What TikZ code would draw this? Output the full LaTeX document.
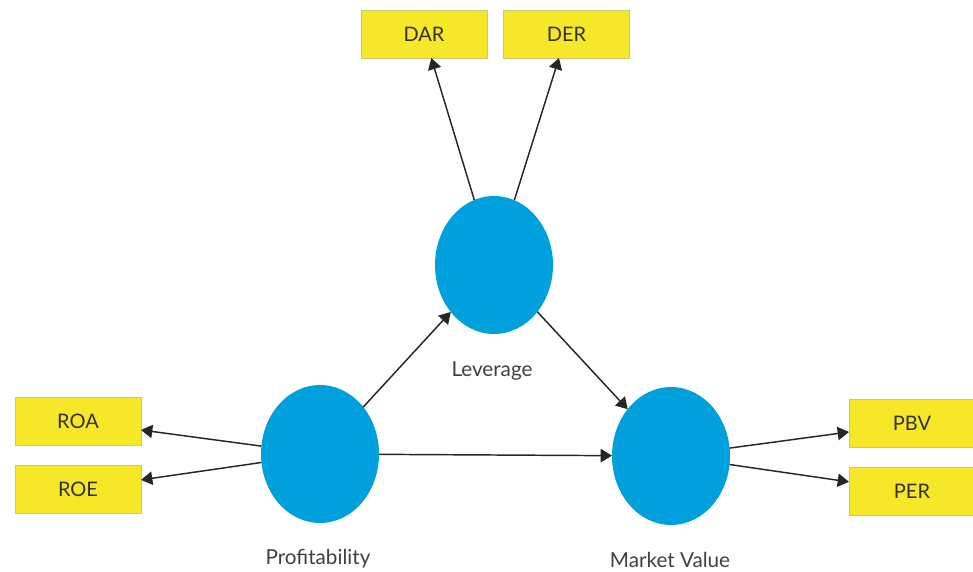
\documentclass[tikz,border=0pt]{standalone}
\usepackage{fontspec}
\setmainfont{Lato}
\usetikzlibrary{shapes.geometric,arrows.meta}

\definecolor{latentblue}{RGB}{0,160,221}
\definecolor{indyellow}{RGB}{246,232,40}
\definecolor{indborder}{RGB}{205,200,120}

\tikzset{every picture/.style={line width=0.75pt}}
\tikzset{
  latent/.style={ellipse, fill=latentblue, draw=none, minimum width=88.5pt, minimum height=103.5pt, inner sep=0pt, outer sep=0pt},
  indicator/.style={rectangle, fill=indyellow, draw=indborder, line width=0.6pt, minimum width=94.5pt, minimum height=36pt, inner sep=0pt, outer sep=0pt, font=\fontsize{15}{18}\selectfont, text=black!80},
  varlabel/.style={anchor=base, inner sep=0.75pt, font=\fontsize{15.5}{18}\selectfont, text=black!75},
  loading/.style={-{Triangle[length=8.5pt,width=10pt]}, line width=1.1pt, draw=black!85}
}

\begin{document}
\begin{tikzpicture}[x=0.75pt,y=0.75pt,yscale=-1,xscale=1]
\path[use as bounding box] (0,0) rectangle (973,571);

%Shape: Ellipse
\node[latent] (lev) at (494,265) {};
%Shape: Ellipse
\node[latent] (prof) at (320,454) {};
%Shape: Ellipse
\node[latent] (mv) at (671,456) {};

%Shape: Rectangle
\node[indicator] (dar) at (424,34) {DAR};
%Shape: Rectangle
\node[indicator] (der) at (566.5,34) {DER};
%Shape: Rectangle
\node[indicator] (roa) at (78,421.5) {ROA};
%Shape: Rectangle
\node[indicator] (roe) at (78,489) {ROE};
%Shape: Rectangle
\node[indicator] (pbv) at (912,423.5) {PBV};
%Shape: Rectangle
\node[indicator] (per) at (912,491) {PER};

%Straight Lines
\draw[loading] (lev) -- (dar);
\draw[loading] (lev) -- (der);
\draw[loading] (prof) -- (roa);
\draw[loading] (prof) -- (roe);
\draw[loading] (mv) -- (pbv);
\draw[loading] (mv) -- (per);
\draw[loading] (prof) -- (lev);
\draw[loading] (lev) -- (mv);
\draw[loading] (prof) -- (mv);

% Text Node
\node[varlabel] (levlabel) at (492,376) {Leverage};
% Text Node
\node[varlabel] (proflabel) at (318,564) {Profitability};
% Text Node
\node[varlabel] (mvlabel) at (670,567) {Market Value};

\end{tikzpicture}
\end{document}
